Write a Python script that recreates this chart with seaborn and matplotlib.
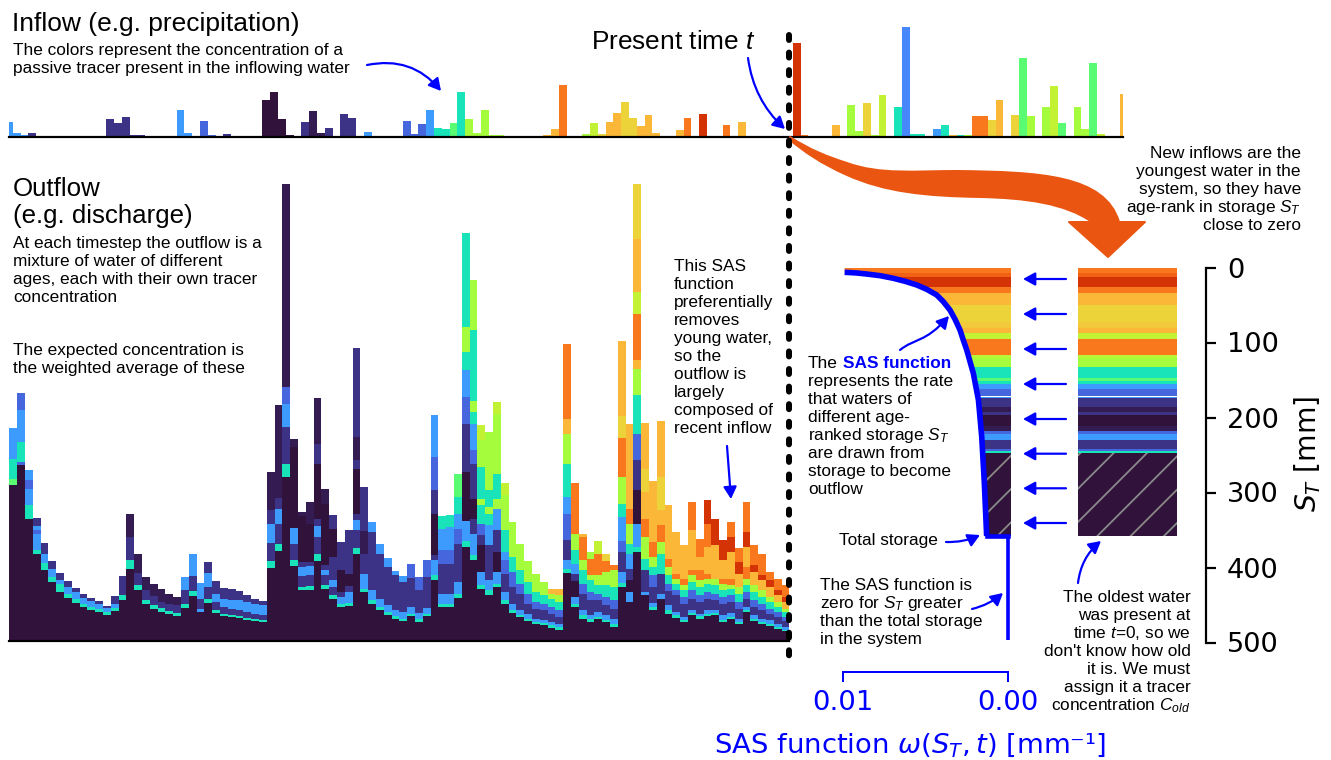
import pandas as pd
import numpy as np
import seaborn as sns
import matplotlib.pyplot as plt
from matplotlib.patches import FancyArrowPatch, PathPatch, Polygon
from matplotlib.path import Path

# tracer concentration levels
D, J, I, B, L, T, G, M, Y, W, O, R, X = 0.0, 0.015, 0.045, 0.12, 0.20, 0.33, 0.42, 0.50, 0.55, 0.62, 0.67, 0.76, 0.87

inflow_heights = [15, 3.7, 2, 3.7, 0, 0, 0, 0, 0, 0, 0, 0,
                  0, 18, 14, 20, 1.7, 1.5, 0, 0, 0, 0, 26.7, 3.7,
                  0, 15.7, 1.5, 0, 2.7, 0, 0, 0, 0, 36.7, 45, 17.7,
                  1.5, 0, 14.7, 25.7, 3.3, 9, 0, 22.3, 19, 0, 4.3, 0,
                  0, 0, 0, 15.3, 2.3, 12.7, 26.7, 9, 7.3, 13.3, 45, 17.7,
                  4, 27, 2, 1.3, 0, 0, 0, 0, 0, 2, 7.7, 52,
                  0, 0, 2.7, 14, 2.7, 14.7, 24, 34.3, 18.3, 10.3, 21.7, 3.7,
                  0, 0, 6.3, 18.3, 0, 23, 0, 0, 11.7, 0, 15, 0,
                  0, 0, 0, 0, 0, 93.7, 1.7, 0, 0, 0, 11.3, 0,
                  32, 6, 33.7, 1.3, 42, 0, 29.3, 110, 2.7, 2.7, 0, 7.7,
                  11.3, 2, 1.3, 1.3, 20.3, 21, 17, 36.3, 0, 21.7, 78.7, 20.3,
                  0, 29.3, 50.3, 13.3, 0, 29.3, 7.7, 74, 2.7, 0, 0, 43]
inflow_levels = [L, L, L, I, D, D, D, D, D, D, D, D,
                 D, I, I, I, I, I, D, D, D, D, L, L,
                 D, B, B, D, I, D, D, D, D, D, D, D,
                 D, D, I, J, J, I, D, I, I, D, L, D,
                 D, D, D, B, B, B, L, T, T, G, T, M,
                 M, M, M, M, D, D, D, D, D, O, O, R,
                 D, D, M, Y, W, O, O, W, W, O, O, O,
                 D, D, O, R, D, X, D, D, R, D, O, D,
                 D, D, D, D, D, X, R, D, D, D, O, D,
                 M, M, W, M, Y, D, T, 0.17, T, T, D, L,
                 T, O, T, M, R, R, W, O, D, W, G, M,
                 D, M, Y, G, D, M, M, G, Y, D, D, O]

# outflow columns: tracer level of each slice from the bottom up, and the top of that slice
outflow_levels = [
    [D, G, T, L], [D, B, T, L, B], [D, T, L, B, L], [D, T, L, B, L, I], [D, T, L, I],
    [D, T, L, I], [D, T, L, I], [D, T, L, I], [D, T, L, I], [D, T, L, I],
    [D, T, L, I], [D, T, L, I], [D, T, L, I], [D, T, L, I], [D, T, I],
    [D, T, I, J], [D, T, I, J], [D, T, I, J], [D, T, I, J], [D, T, I, J],
    [D, T, I, J], [D, T, I, J], [D, T, I, L], [D, T, I, L], [D, L, I, L],
    [D, T, I, L, I], [D, T, I, L, I], [D, T, I, L, I], [D, T, I, L, I], [D, T, I, L, I],
    [D, T, I, L, I], [D, T, I, L, I], [D, T, I, L, I], [D, T, I, L, I, J], [D, T, I, L, I, J],
    [D, T, I, L, B, J], [D, T, I, L, D, J], [D, T, I, L, I, D, J], [D, T, I, L, I, D, J],
    [D, T, I, L, I, D, I, J], [D, T, I, L, I, D, J], [D, T, I, L, I, D, I], [D, T, L, I, D, I],
    [D, T, L, I, D, I], [D, T, I, L, I, D, I, J, I], [D, T, L, I, J, I], [D, T, L, I, L],
    [D, T, L, I, L], [D, T, L, I, L], [D, T, L, I, L], [D, T, L, I, L], [D, T, L, I, B],
    [D, T, L, I, B], [D, T, L, I, B], [D, T, L, I, D, I, B, L], [D, T, L, I, B, L, T],
    [D, T, L, I, B, L, T], [D, T, L, I, B, L, T, G], [D, T, L, D, I, B, L, T, M, T],
    [D, T, L, I, D, I, B, L, T, M, T, M], [D, T, L, D, I, B, T, M, T, M, Y],
    [D, T, L, I, L, T, M, T, M], [D, T, L, D, I, L, M, T, M, Y], [D, T, L, I, B, L, T, M, Y],
    [D, T, L, I, B, T, M], [D, T, L, I, B, T, M], [D, T, L, I, B, T, M], [D, T, L, I, B, T, M],
    [D, T, L, I, B, T, M], [D, T, L, I, B, T, M, O], [D, T, L, I, B, T, M, O],
    [D, T, L, I, B, L, T, M, O, R], [D, T, L, D, I, L, T, M, R], [D, T, L, I, B, T, M, R, O],
    [D, T, L, I, B, T, M, R, M], [D, T, L, I, B, T, M, R, Y], [D, T, L, I, B, T, M, R, W],
    [D, T, L, I, B, T, M, R], [D, T, L, I, B, L, T, M, R, W, O], [D, L, D, I, L, T, M, R, O],
    [D, T, L, D, I, B, T, M, O, R, Y, O, W], [D, L, I, T, M, R, O, W, O],
    [D, T, L, I, B, T, M, R, O], [D, L, I, T, M, R, O, W, O], [D, T, L, I, B, T, M, R, O],
    [D, T, L, I, B, T, M, R, O], [D, T, L, I, B, T, M, R, O], [D, T, L, I, B, T, M, R, O, R],
    [D, T, L, I, B, T, M, R, O, R], [D, T, L, I, B, T, M, R, O, R, X], [D, T, L, I, B, T, M, O, X],
    [D, T, L, I, B, T, M, R, O, X], [D, T, L, I, B, T, M, R, O, X, R], [D, T, L, I, B, T, M, O, X, R],
    [D, T, L, I, B, T, M, R, O, X, R], [D, T, L, I, B, T, M, O, X, R], [D, T, L, I, B, T, M, O, X, R],
    [D, T, L, I, B, T, M, O, X, R], [D, T, L, I, B, T, M, O, X, R], [D, T, L, I, B, T, M, O, X, R],
]
outflow_tops = [
    [156, 162, 182, 213], [176, 179, 199, 231, 248], [122, 136, 152, 161, 171], [87, 91, 107, 111, 115, 123], [71, 78, 87, 98],
    [59, 64, 72, 80], [49, 57, 61, 68], [43, 47, 54, 60], [38, 42, 49, 53], [34, 37, 43, 47],
    [31, 34, 40, 43], [29, 32, 37, 40], [26, 29, 33, 35], [30, 33, 37, 45], [41, 46, 65],
    [72, 81, 104, 127], [51, 56, 68, 87], [37, 41, 51, 64], [32, 36, 45, 57], [29, 33, 39, 52],
    [27, 30, 37, 47], [25, 28, 36, 44], [33, 37, 51, 64], [45, 50, 65, 87], [29, 32, 42, 58],
    [38, 42, 54, 68, 79], [28, 31, 39, 47, 60], [25, 27, 34, 42, 53], [24, 26, 32, 41, 52], [23, 25, 31, 41, 50],
    [21, 23, 29, 39, 46], [20, 22, 27, 37, 42], [19, 21, 26, 36, 40], [73, 80, 98, 117, 131, 169], [90, 97, 117, 132, 143, 236],
    [164, 177, 214, 237, 254, 457], [75, 81, 97, 113, 194, 202], [51, 54, 65, 74, 79, 125, 129], [51, 55, 66, 75, 79, 117, 139],
    [80, 87, 104, 115, 122, 177, 197, 243], [52, 56, 66, 71, 76, 137, 152], [42, 46, 54, 61, 84, 112, 126], [34, 37, 44, 49, 71, 99],
    [35, 38, 49, 55, 67, 111], [87, 93, 111, 121, 127, 172, 181, 204, 293], [49, 52, 67, 87, 110, 154], [37, 41, 51, 109, 119],
    [31, 34, 42, 87, 97], [26, 29, 36, 74, 83], [22, 25, 31, 66, 70], [20, 22, 29, 59, 65], [25, 27, 34, 63, 77],
    [19, 22, 28, 51, 64], [25, 27, 33, 64, 81], [61, 66, 81, 86, 127, 151, 184, 226], [34, 37, 47, 77, 91, 112, 125],
    [34, 37, 47, 77, 91, 114, 126], [43, 47, 59, 97, 112, 127, 144, 167], [94, 100, 120, 169, 217, 244, 271, 289, 314, 408],
    [81, 86, 107, 122, 142, 177, 191, 217, 229, 240, 311, 361], [52, 56, 69, 96, 106, 117, 136, 142, 174, 201, 216],
    [46, 51, 61, 96, 116, 127, 134, 151, 209], [54, 57, 69, 89, 111, 132, 142, 167, 227, 239], [37, 41, 49, 67, 81, 89, 111, 146, 158],
    [28, 31, 37, 54, 69, 84, 119], [24, 26, 31, 47, 57, 71, 97], [20, 22, 27, 37, 47, 59, 80], [17, 19, 22, 32, 39, 49, 67],
    [16, 18, 21, 31, 37, 46, 59], [13, 16, 19, 27, 34, 42, 47, 52], [11, 14, 17, 24, 31, 39, 46, 52],
    [68, 72, 81, 101, 127, 144, 177, 207, 222, 297], [34, 37, 44, 60, 67, 77, 91, 107, 158], [22, 26, 31, 47, 57, 71, 81, 104, 107],
    [19, 22, 26, 41, 49, 61, 66, 82, 89], [22, 24, 29, 41, 47, 56, 66, 87, 100], [19, 21, 26, 36, 44, 56, 69, 80, 87],
    [14, 17, 22, 32, 41, 54, 71, 76], [54, 58, 69, 89, 100, 124, 137, 164, 203, 225, 300], [39, 49, 61, 72, 87, 97, 117, 132, 217],
    [89, 94, 117, 151, 181, 207, 246, 272, 281, 327, 349, 402, 457], [46, 49, 71, 82, 104, 122, 149, 172, 218],
    [31, 34, 38, 54, 66, 74, 84, 99, 160], [42, 47, 67, 87, 99, 116, 131, 164, 220], [27, 31, 36, 50, 57, 66, 74, 82, 136],
    [23, 26, 29, 46, 51, 57, 62, 67, 109], [19, 21, 24, 37, 44, 51, 56, 62, 96], [26, 28, 31, 42, 51, 59, 66, 71, 111, 139],
    [22, 25, 27, 39, 46, 54, 61, 71, 84, 102], [25, 27, 31, 42, 49, 57, 62, 67, 94, 117, 141], [26, 28, 31, 41, 47, 56, 62, 96, 122],
    [19, 21, 26, 37, 44, 51, 57, 62, 81, 101], [22, 24, 28, 39, 46, 52, 56, 62, 89, 104, 119], [17, 19, 22, 32, 39, 47, 54, 67, 79, 93],
    [29, 31, 34, 42, 49, 56, 62, 74, 94, 109, 139], [20, 22, 26, 34, 41, 49, 56, 69, 76, 96], [17, 19, 22, 31, 37, 44, 51, 61, 66, 87],
    [15, 17, 21, 27, 32, 39, 44, 54, 61, 69], [12, 14, 17, 24, 29, 34, 39, 46, 51, 62], [10, 11, 14, 20, 24, 29, 32, 39, 44, 56],
]

# age-ranked storage, youngest on top
storage_levels = [R, 0.79, X, R, O, O, W, 0.64, O, Y, R, 0.53, M, T, G, T, L, B, L, I, J, I, D, J, B, L, I, B, T, D]
storage_bottoms = [7.8, 13, 25.6, 33.6, 35.8, 50, 72.2, 81, 87.8, 95.8, 116.7, 121, 133, 147.8, 151, 155.3, 162.4, 172,
                   174.4, 185.6, 192, 196.7, 210.9, 218, 222.4, 230, 242, 244.7, 247.3, 358]

sas_omega = [0.00990, 0.00917, 0.00856, 0.00775, 0.00694, 0.00623, 0.00552, 0.00491, 0.00430, 0.00390, 0.00350, 0.00319,
             0.00289, 0.00269, 0.00248, 0.00228, 0.00208, 0.00177, 0.00157, 0.00141, 0.00127]
sas_depth = [6.4, 7.3, 8.7, 10.9, 14.4, 18.4, 23.3, 29.1, 36.7, 45.6, 56.7, 69.1,
             83.3, 96.7, 110, 125.6, 141, 176.7, 225.6, 287.8, 358]
sas_tail_omega = [0.00127, 0, 0]
sas_tail_depth = [358, 358, 497]

depth_ticks = [0, 100, 200, 300, 400, 500]
omega_ticks = [0.01, 0.00]

W_PX, H_PX = 1331, 760
DPI = 200
PT = 72 / DPI  # one pixel in points

sns.set_style("white")
plt.rcParams['font.family'] = ['Liberation Sans', 'DejaVu Sans']
plt.rcParams['mathtext.fontset'] = 'custom'
plt.rcParams['mathtext.rm'] = 'Liberation Sans'
plt.rcParams['mathtext.it'] = 'Liberation Sans:italic'
plt.rcParams['mathtext.bf'] = 'Liberation Sans:bold'
plt.rcParams['hatch.linewidth'] = 1.8 * PT
plt.rcParams['hatch.color'] = '#8a8a8a'

turbo = sns.color_palette("turbo", as_cmap=True)
fig = plt.figure(figsize=(W_PX / DPI, H_PX / DPI), dpi=DPI)


def axes_px(x0, y0, x1, y1):
    return fig.add_axes([x0 / W_PX, 1 - y1 / H_PX, (x1 - x0) / W_PX, (y1 - y0) / H_PX])


def strip(ax):
    ax.set(xticks=[], yticks=[], xlabel='', ylabel='')
    sns.despine(ax=ax, left=True)
    ax.spines['bottom'].set_linewidth(2.2 * PT)
    ax.spines['bottom'].set_color('black')


# inflow
ax_in = axes_px(9.3, 20, 1123.3, 136.7)
inflow = pd.DataFrame({'step': range(len(inflow_heights)), 'height': inflow_heights})
sns.barplot(data=inflow, x='step', y='height', hue='step', palette=[turbo(c) for c in inflow_levels],
            width=1, saturation=1, linewidth=0, dodge=False, legend=False, ax=ax_in)
ax_in.set_xlim(0.064, 142.88)
ax_in.set_ylim(0, 116.7)
strip(ax_in)

# outflow: tallest slice first, every lower slice painted over it
ax_out = axes_px(9.3, 181, 789.3, 641)
rows = []
for step, (levels, tops) in enumerate(zip(outflow_levels, outflow_tops)):
    for layer, (conc, top) in enumerate(zip(reversed(levels), reversed(tops))):
        rows.append({'step': step, 'layer': layer, 'conc': conc, 'top': top})
outflow = pd.DataFrame(rows)
steps = list(range(len(outflow_tops)))
for layer, part in outflow.groupby('layer'):
    sns.barplot(data=part, x='step', y='top', hue='step', order=steps,
                palette={s: turbo(c) for s, c in zip(part['step'], part['conc'])},
                width=1, saturation=1, linewidth=0, dodge=False, legend=False, ax=ax_out)
ax_out.set_xlim(-0.5, 99.5)
ax_out.set_ylim(0, 460)
strip(ax_out)

# storage
storage_tops = [0] + storage_bottoms[:-1]
storage_heights = np.diff([0] + storage_bottoms)
storage_mids = np.array(storage_tops) + storage_heights / 2
storage_colors = [turbo(c) for c in storage_levels]
old_hatch = ['//' if c == D and b == storage_bottoms[-1] else None for c, b in zip(storage_levels, storage_bottoms)]

ax_sas = axes_px(843, 267.5, 1011, 642.5)
ax_sas.set_xlim(0.01, -0.00021)
ax_sas.set_ylim(500, 0)
clip = Polygon(list(zip([sas_omega[0]] + sas_omega + [-0.00021, -0.00021], [0] + sas_depth + [358, 0])),
               transform=ax_sas.transData)
bars = ax_sas.barh(storage_mids, 0.0105, left=-0.0005, height=storage_heights, color=storage_colors, linewidth=0,
                   edgecolor='#8a8a8a', hatch=old_hatch, antialiased=False)
for bar in bars:
    bar.set_clip_path(clip)
sns.lineplot(x=sas_omega, y=sas_depth, sort=False, estimator=None, color='#0000ff', linewidth=5.6 * PT,
             solid_capstyle='butt', ax=ax_sas)
sns.lineplot(x=sas_tail_omega[:2], y=sas_tail_depth[:2], sort=False, estimator=None, color='#0000ff', linewidth=4.6 * PT,
             solid_capstyle='projecting', ax=ax_sas)
sns.lineplot(x=sas_tail_omega[1:], y=sas_tail_depth[1:], sort=False, estimator=None, color='#0000ff', linewidth=3.6 * PT,
             solid_capstyle='butt', ax=ax_sas)
ax_sas.set_xlim(0.01, -0.00021)
ax_sas.set_ylim(500, 0)
ax_sas.patch.set_visible(False)
sns.despine(ax=ax_sas, left=True)
ax_sas.spines['bottom'].set_position(('outward', 29 * PT))
ax_sas.spines['bottom'].set_bounds(0, 0.01)
ax_sas.spines['bottom'].set_color('#0000ff')
ax_sas.spines['bottom'].set_linewidth(2 * PT)
ax_sas.set_yticks([])
ax_sas.set_xticks(omega_ticks, [f'{v:.2f}' for v in omega_ticks], family='DejaVu Sans', fontsize=9.9, color='#0000ff')
ax_sas.tick_params(axis='x', length=10 * PT, width=2 * PT, color='#0000ff', pad=9 * PT, bottom=True)
ax_sas.set_xlabel('SAS function $\\omega(S_T,t)$ [mm\u207b\u00b9]', color='#0000ff', fontsize=9.9, family='DejaVu Sans',
                  math_fontfamily='dejavusans', va='center')
ax_sas.set_ylabel('')
ax_sas.xaxis.set_label_coords(0.4, -0.273)

ax_st = axes_px(1078.3, 267.5, 1176.7, 642.5)
ax_st.barh(storage_mids, 1, height=storage_heights, color=storage_colors, linewidth=0,
           edgecolor='#8a8a8a', hatch=old_hatch, antialiased=False)
ax_st.set_xlim(0, 1)
ax_st.set_ylim(500, 0)
ax_st.patch.set_visible(False)
for side in ['left', 'top', 'bottom']:
    ax_st.spines[side].set_visible(False)
ax_st.spines['right'].set_position(('outward', 29.3 * PT))
ax_st.spines['right'].set_bounds(0, 500)
ax_st.spines['right'].set_linewidth(2.2 * PT)
ax_st.spines['right'].set_color('black')
ax_st.set_xticks([])
ax_st.yaxis.tick_right()
ax_st.set_yticks(depth_ticks, [str(v) for v in depth_ticks], family='DejaVu Sans', fontsize=9.8, color='black')
ax_st.tick_params(axis='y', length=10 * PT, width=2.2 * PT, color='black', pad=11 * PT, right=True, left=False)
ax_st.yaxis.set_label_position('right')
ax_st.set_ylabel('$S_T$ [mm]', fontsize=10.2, family='DejaVu Sans', math_fontfamily='dejavusans', color='black')
ax_st.yaxis.set_label_coords((1308 - 1078.3) / 98.4, 0.503)
ax_st.yaxis.label.set_va('center')

# annotation layer, in pixels of the picture
over = fig.add_axes([0, 0, 1, 1])
over.set_xlim(0, W_PX)
over.set_ylim(H_PX, 0)
over.axis('off')
over.patch.set_visible(False)


def note(x, baseline, lines, size=6.22, step=18, **kw):
    for i, line in enumerate(lines):
        over.text(x, baseline + i * step, line, fontsize=size, va='baseline', color=kw.get('color', 'black'),
                  ha=kw.get('ha', 'left'), fontweight=kw.get('weight', 'normal'))


def arrow(a, b, rad=0.0, lw=2.2, head=10, half=5.5):
    style = f'-|>,head_length={head * PT},head_width={half * PT}'
    over.add_patch(FancyArrowPatch(a, b, connectionstyle=f'arc3,rad={rad}', arrowstyle=style, mutation_scale=1,
                                   lw=lw * PT, color='#0000ff', shrinkA=0, shrinkB=0))


note(12, 31, ['Inflow (e.g. precipitation)'], size=9.5)
note(13, 55, ['The colors represent the concentration of a', 'passive tracer present in the inflowing water'], size=6.22)
note(591, 49, ['Present time $t$'], size=9.45)
note(13, 196, ['Outflow', '(e.g. discharge)'], size=9.3, step=27)
note(13, 248, ['At each timestep the outflow is a', 'mixture of water of different',
               'ages, each with their own tracer', 'concentration'])
note(13, 355, ['The expected concentration is', 'the weighted average of these'])
note(674, 271, ['This SAS', 'function', 'preferentially', 'removes', 'young water,', 'so the', 'outflow is', 'largely',
                'composed of', 'recent inflow'])
note(1301, 158, ['New inflows are the', 'youngest water in the', 'system, so they have',
                 'age-rank in storage $S_T$', 'close to zero'], ha='right')
note(808, 368, ['The'])
note(843, 368, ['SAS function'], color='#0000ff', weight='bold')
note(808, 386, ['represents the rate', 'that waters of', 'different age-', 'ranked storage $S_T$', 'are drawn from',
                'storage to become', 'outflow'])
note(839, 545, ['Total storage'])
note(820, 590, ['The SAS function is', 'zero for $S_T$ greater', 'than the total storage', 'in the system'])
note(1190.5, 602, ['The oldest water', 'was present at', r'time $t$=$\mathit{0}$, so we', "don't know how old",
                   'it is. We must', 'assign it a tracer', r'concentration $C_{old}$'], ha='right')

# big orange arrow from the present inflow into storage
orange_path = Path([(790, 137), (810, 150), (828, 157), (847, 163), (880, 175), (915, 171), (957, 171),
                    (1040, 172), (1105, 175), (1119, 222), (1145, 222), (1108, 257), (1069, 222), (1092, 222),
                    (1065, 203), (1025, 198), (980, 197), (925, 196), (885, 192), (847, 175),
                    (820, 163), (805, 152), (790, 140), (790, 137)],
                   [Path.MOVETO] + [Path.CURVE4] * 9 + [Path.LINETO] * 4 + [Path.CURVE4] * 9 + [Path.CLOSEPOLY])
over.add_patch(PathPatch(orange_path, facecolor='#ea5512', edgecolor='#ea5512', lw=2 * PT, joinstyle='round'))

# present time marker
over.plot([789.3, 789.3], [35, 662], color='black', linewidth=6 * PT, linestyle=(0, (0.83, 2.1)), dash_capstyle='round')

arrow((367, 65), (441, 91), rad=-0.3)
arrow((748, 58), (785, 129), rad=0.18)
arrow((727, 446), (731, 499))
arrow((946, 542), (980, 535), rad=0.12)
arrow((972, 609), (1003, 593), rad=0.12)
arrow((1078, 583), (1101, 541), rad=-0.2)
for y in [279, 314, 349, 384, 419, 453.7, 488.3, 523]:
    arrow((1066, y), (1023, y))
over.add_patch(FancyArrowPatch(path=Path([(900, 350), (915, 338), (925, 343), (949, 316)], [Path.MOVETO] + [Path.CURVE4] * 3),
                               arrowstyle=f'-|>,head_length={10 * PT},head_width={5.5 * PT}', mutation_scale=1,
                               lw=2.2 * PT, color='#0000ff'))

fig.savefig("out.png", dpi=DPI)
